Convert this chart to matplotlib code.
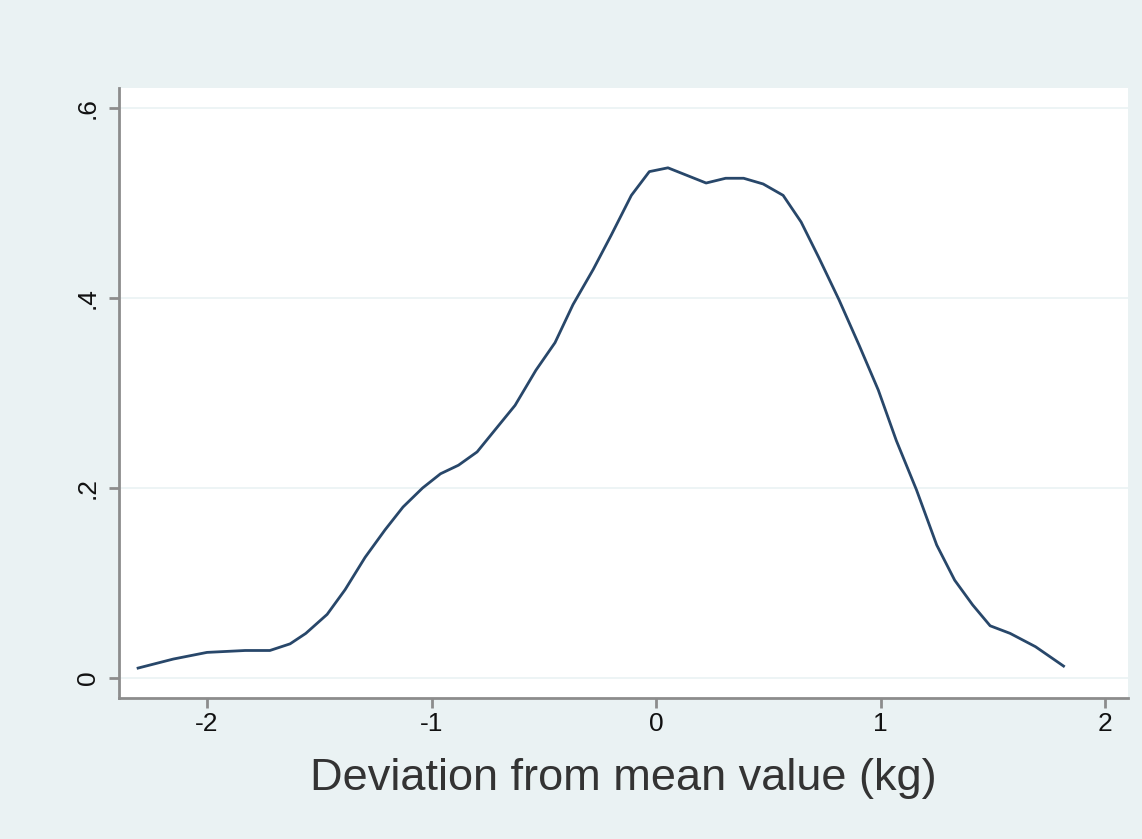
import matplotlib
matplotlib.use("Agg")
import matplotlib.pyplot as plt

x_vals = [-2.307, -2.15, -2.0, -1.83, -1.72, -1.63, -1.56, -1.465, -1.385, -1.296, -1.207,
          -1.127, -1.04, -0.96, -0.88, -0.797, -0.704, -0.628, -0.535, -0.45, -0.37,
          -0.28, -0.2, -0.11, -0.03, 0.053, 0.223, 0.31, 0.39, 0.477, 0.566, 0.646,
          0.726, 0.815, 0.905, 0.99, 1.07, 1.16, 1.25, 1.33, 1.41, 1.488, 1.577, 1.69, 1.815]
y_vals = [0.0105, 0.020, 0.027, 0.029, 0.029, 0.036, 0.047, 0.067, 0.093, 0.127, 0.156,
          0.180, 0.200, 0.215, 0.224, 0.238, 0.265, 0.287, 0.324, 0.353, 0.393,
          0.430, 0.466, 0.508, 0.533, 0.537, 0.521, 0.526, 0.526, 0.520, 0.508, 0.480,
          0.442, 0.398, 0.350, 0.303, 0.250, 0.198, 0.140, 0.103, 0.077, 0.055, 0.047, 0.033, 0.0126]

x_ticks = [-2, -1, 0, 1, 2]
x_tick_labels = ["-2", "-1", "0", "1", "2"]
y_ticks = [0, 0.2, 0.4, 0.6]
y_tick_labels = ["0", ".2", ".4", ".6"]
x_label = "Deviation from mean value (kg)"

bg = "#EAF2F3"
fig = plt.figure(figsize=(11.42, 8.39), dpi=100, facecolor=bg)
ax = fig.add_axes([119/1142, 1-698/839, (1128-119)/1142, (698-88)/839])
ax.set_facecolor("white")

ax.plot(x_vals, y_vals, color="#28476A", lw=2.0)

ax.set_xlim(-2.392, 2.102)
ax.set_ylim(-0.021, 0.621)
ax.set_xticks(x_ticks)
ax.set_xticklabels(x_tick_labels)
ax.set_yticks(y_ticks)
ax.set_yticklabels(y_tick_labels, rotation=90, va="center")

for y in y_ticks:
    ax.axhline(y, color="#EAF2F3", lw=1.2, zorder=0)

for s in ["top", "right"]:
    ax.spines[s].set_visible(False)
for s in ["left", "bottom"]:
    ax.spines[s].set_color("#8C8C8C")
    ax.spines[s].set_linewidth(2)

ax.tick_params(axis="both", colors="#8C8C8C", length=7, width=2, labelcolor="#111111",
               labelsize=19)
for lbl in ax.get_xticklabels() + ax.get_yticklabels():
    lbl.set_family("Liberation Sans")
ax.tick_params(axis="x", pad=3)
ax.tick_params(axis="y", pad=7)

ax.set_xlabel(x_label, fontsize=32.5, family="Liberation Sans", labelpad=16, color="#333333")

fig.savefig("out.png", dpi=100, facecolor=bg)
